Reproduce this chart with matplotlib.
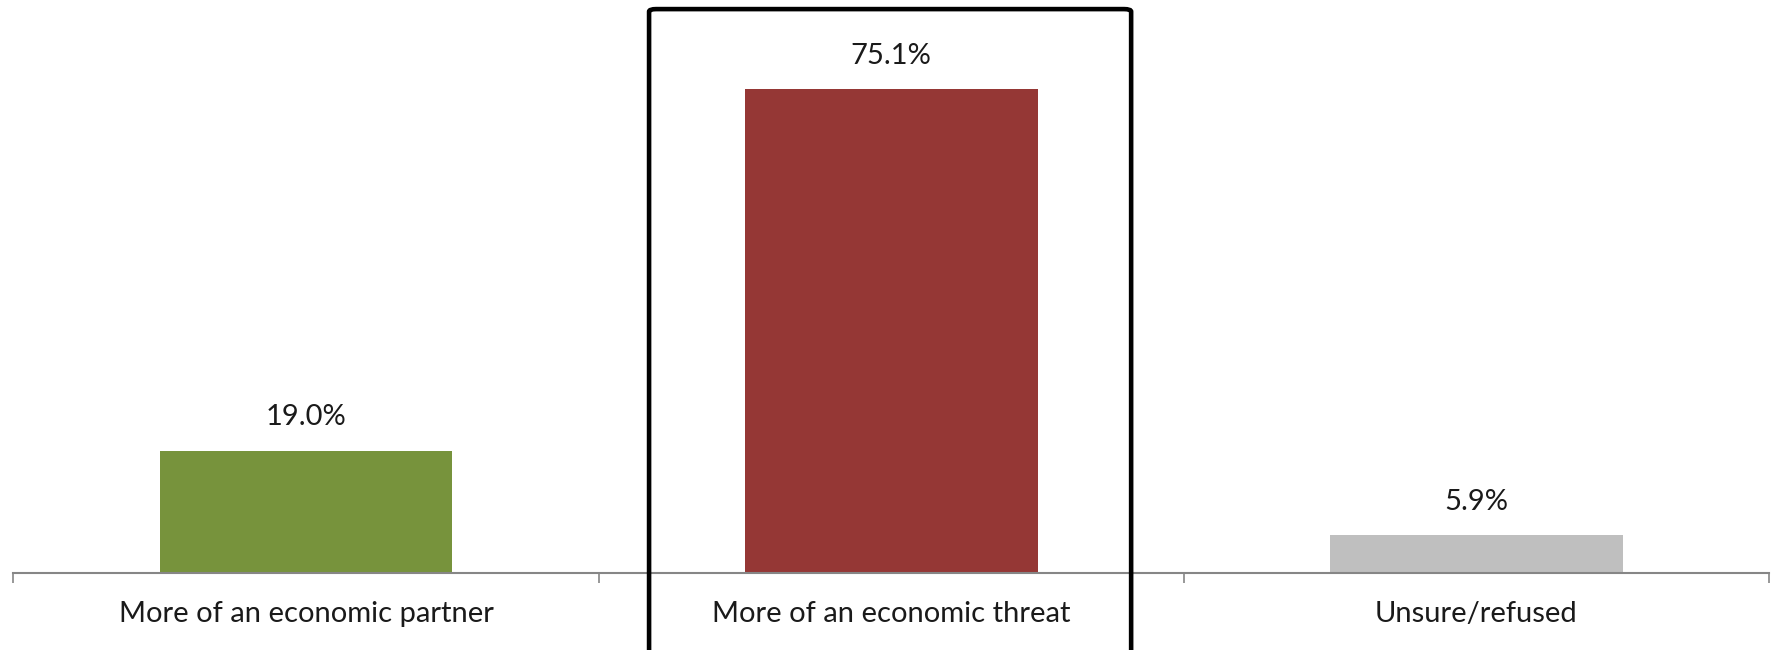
import matplotlib.pyplot as plt
from matplotlib.patches import FancyBboxPatch

# chart data
categories = ["More of an economic partner", "More of an economic threat", "Unsure/refused"]
values = [19.0, 75.1, 5.9]
colors = ["#77933C", "#953735", "#BFBFBF"]

plt.rcParams['font.family'] = ['Lato', 'DejaVu Sans']

fig = plt.figure(figsize=(17.71, 6.5), dpi=100)
ax = fig.add_axes([0.0076, 0.1185, 0.9913, 0.8815])

x = list(range(len(categories)))
bars = ax.bar(x, values, width=0.5, color=colors)

# value labels above bars
for xi, v in zip(x, values):
    ax.annotate(f"{v:.1f}%", (xi, v), xytext=(0, 24), textcoords="offset points",
                ha="center", va="center", fontsize=21, color="#1a1a1a")

ax.set_xlim(-0.5, len(categories) - 0.5)
ax.set_ylim(0, 89)

# tick marks at category boundaries, labels at centres
ax.set_xticks([i - 0.5 for i in range(len(categories) + 1)])
ax.set_xticklabels([])
ax.tick_params(axis="x", which="major", direction="out", length=7, width=1.2, color="#868686")
ax.set_xticks(x, minor=True)
ax.set_xticklabels(categories, minor=True, fontsize=21, color="#1a1a1a")
ax.tick_params(axis="x", which="minor", length=0, pad=20)
ax.set_yticks([])

for s in ["top", "right", "left"]:
    ax.spines[s].set_visible(False)
ax.spines["bottom"].set_color("#868686")
ax.spines["bottom"].set_linewidth(1.5)

# highlight box round the middle category
box = FancyBboxPatch((0.3665, -0.1), 0.2722, 1.086, boxstyle="round,pad=0,rounding_size=0.004",
                     transform=fig.transFigure, fill=False, edgecolor="black",
                     linewidth=3.3, clip_on=False)
fig.patches.append(box)

fig.savefig("out.png", dpi=100)
